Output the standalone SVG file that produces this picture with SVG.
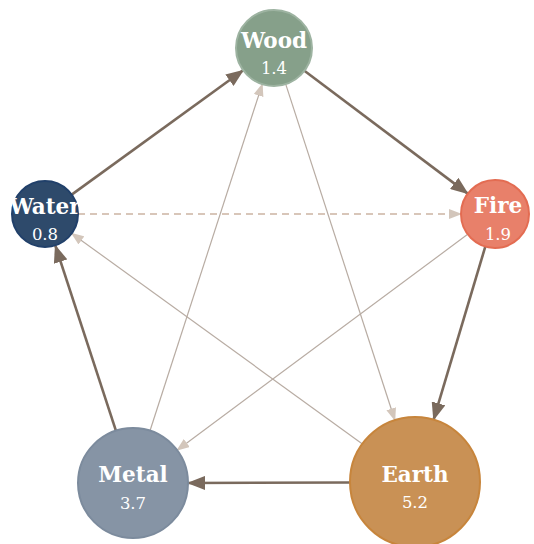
<svg xmlns="http://www.w3.org/2000/svg" width="534" height="544" viewBox="0 0 534 544">
<defs>
<style>
.gen{stroke:#7a6a5d;stroke-width:2.6;fill:none;marker-end:url(#ah)}
.ovr{stroke:#b8aca3;stroke-width:1.2;fill:none;marker-end:url(#al)}
.dash{stroke:#d8c6b9;stroke-width:2;fill:none;stroke-dasharray:7,5;marker-end:url(#al)}
.lbl{font-family:"DejaVu Serif","Liberation Serif",serif;font-weight:bold;font-size:21.5px;fill:#ffffff;text-anchor:middle}
.val{font-family:"DejaVu Serif","Liberation Serif",serif;font-size:16.5px;fill:#ffffff;text-anchor:middle}
</style>
<marker id="ah" markerUnits="userSpaceOnUse" markerWidth="18" markerHeight="14" refX="17" refY="7" orient="auto"><path d="M0,0 L18,7 L0,14 z" fill="#7a6a5d"/></marker>
<marker id="al" markerUnits="userSpaceOnUse" markerWidth="13" markerHeight="10" refX="12" refY="5" orient="auto"><path d="M0,0 L13,5 L0,10 z" fill="#d3c6bb"/></marker>
</defs>
<rect width="534" height="544" fill="#ffffff"/>
<g id="connectors">
<line class="gen" x1="71.7" y1="194.6" x2="243.2" y2="70.3"/>
<line class="gen" x1="304.4" y1="70.8" x2="467.8" y2="193.6"/>
<line class="gen" x1="485.3" y1="246.6" x2="433.6" y2="419.7"/>
<line class="gen" x1="350" y1="482.5" x2="188" y2="483"/>
<line class="gen" x1="115.9" y1="430.7" x2="55.3" y2="245.4"/>
<line class="dash" x1="78" y1="214" x2="461" y2="214"/>
<line class="ovr" x1="285.7" y1="84.1" x2="394.9" y2="420.2"/>
<line class="ovr" x1="362.4" y1="443.9" x2="71.7" y2="233.4"/>
<line class="ovr" x1="467.7" y1="234.3" x2="177.1" y2="450.2"/>
<line class="ovr" x1="150" y1="430.7" x2="262.3" y2="84.1"/>
</g>
<g id="wood">
<circle cx="274" cy="48" r="38" fill="#86a08a" stroke="#9db3a1" stroke-width="2"/>
<text class="lbl" x="274" y="48">Wood</text>
<text class="val" x="274" y="74">1.4</text>
</g>
<g id="water">
<circle cx="45" cy="214" r="33" fill="#2e4a6b" stroke="#21406a" stroke-width="2"/>
<text class="lbl" x="45" y="214">Water</text>
<text class="val" x="45" y="240">0.8</text>
</g>
<g id="fire">
<circle cx="495" cy="214" r="34" fill="#e8806a" stroke="#e36c52" stroke-width="2"/>
<text class="lbl" x="498" y="213">Fire</text>
<text class="val" x="498" y="240">1.9</text>
</g>
<g id="metal">
<circle cx="133" cy="483" r="55" fill="#8694a5" stroke="#7c8b9d" stroke-width="2"/>
<text class="lbl" x="133" y="482">Metal</text>
<text class="val" x="133" y="509">3.7</text>
</g>
<g id="earth">
<circle cx="415" cy="482" r="65" fill="#c99155" stroke="#c7853c" stroke-width="2"/>
<text class="lbl" x="415" y="482">Earth</text>
<text class="val" x="415" y="508">5.2</text>
</g>
</svg>
